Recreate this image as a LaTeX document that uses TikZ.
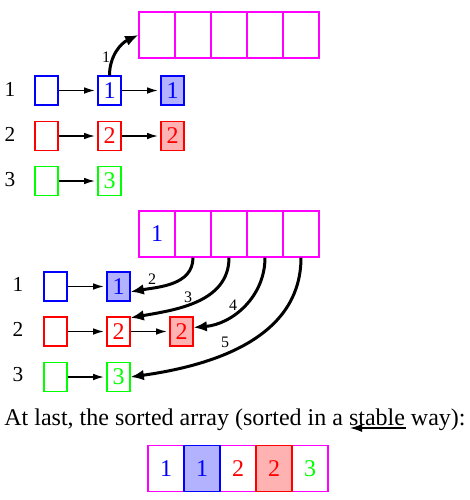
\documentclass[tikz,border=0pt]{standalone}
\usepackage{fontspec}
\setmainfont{Liberation Serif}
\usetikzlibrary{arrows.meta}

\definecolor{arraypink}{RGB}{255,0,255}
\tikzset{
  elem/.style={draw, minimum width=17.25pt, minimum height=21.75pt, inner sep=0pt, line width=0.8pt, font=\fontsize{18}{18}\selectfont},
  cell/.style={draw=arraypink, minimum width=27pt, minimum height=34.5pt, inner sep=0pt, line width=0.8pt, font=\fontsize{18}{18}\selectfont},
  rowlab/.style={font=\fontsize{16}{16}\selectfont},
  steplab/.style={font=\fontsize{12}{12}\selectfont},
  link/.style={-{Latex[length=8pt,width=5pt]}, line width=1pt, shorten >=2pt},
  move/.style={-{Latex[length=10pt,width=8pt]}, line width=2.25pt}
}

\begin{document}
\begin{tikzpicture}[x=0.75pt,y=-0.75pt]
\useasboundingbox (0,0) rectangle (470,500);

\foreach \i in {1,...,5}{
	\node[cell] (t\i) at (121+36*\i,35) {};
	}
\node[rowlab] (l1) at (10,89) {1};
\node[rowlab] (l2) at (10,134) {2};
\node[rowlab] (l3) at (10,180) {3};

\node[elem,blue] (a1) at (46.5,90.5) {};
\node[elem,blue] (b1) at (109.5,90.5) {1};
\node[elem,blue,fill=blue!30] (c1) at (172.5,90.5) {1};
\node[elem,red] (a2) at (46.5,136) {};
\node[elem,red] (b2) at (109.5,136) {2};
\node[elem,red,fill=red!30] (c2) at (172.5,136) {2};
\node[elem,green] (a3) at (46.5,181) {};
\node[elem,green] (b3) at (109.5,181) {3};

\draw[link] (a1) -- (b1);
\draw[link] (b1) -- (c1);
\draw[link] (a2) -- (b2);
\draw[link] (b2) -- (c2);
\draw[link] (a3) -- (b3);

\draw[move] (b1.north) to[out=90,in=205] (t1.west);
\node[steplab] (s1) at (106,57) {1};

\foreach \i in {1,...,5}{
	\node[cell] (m\i) at (121+36*\i,234) {};
	}
\node[cell,draw=none,blue] at (m1) {1};
\node[rowlab] (k1) at (18,284) {1};
\node[rowlab] (k2) at (18,329) {2};
\node[rowlab] (k3) at (18,375) {3};

\node[elem,blue] (p1) at (55.5,286.5) {};
\node[elem,blue,fill=blue!30] (q1) at (118.5,286.5) {1};
\node[elem,red] (p2) at (55.5,331.5) {};
\node[elem,red] (q2) at (118.5,331.5) {2};
\node[elem,red,fill=red!30] (r2) at (181.5,331.5) {2};
\node[elem,green] (p3) at (55.5,377) {};
\node[elem,green] (q3) at (118.5,377) {3};

\draw[link] (p1) -- (q1);
\draw[link] (p2) -- (q2);
\draw[link] (q2) -- (r2);
\draw[link] (p3) -- (q3);

\draw[move] (m2.south) to[out=-90,in=10] ([yshift=-4pt]q1.east);
\draw[move] (m3.south) to[out=-90,in=10] ([yshift=-1pt]q2.north east);
\draw[move] (m4.south) to[out=-90,in=5] ([yshift=3pt]r2.east);
\draw[move] (m5.south) to[out=-90,in=8] (q3.east);
\node[steplab] (s2) at (152,279) {2};
\node[steplab] (s3) at (188,297) {3};
\node[steplab] (s4) at (233,305) {4};
\node[steplab] (s5) at (225,342) {5};

\node[font=\fontsize{18}{18}\selectfont] (res) at (235,420) {At last, the sorted array (sorted in a stable way):};
\coordinate (stR) at (406,428);
\coordinate (stL) at (350,428);
\draw[-{Latex[length=9pt,width=6pt]}, line width=0.9pt] (stR) -- (stL);

\foreach \i in {1,...,5}{
	\node[cell] (f\i) at (130+36*\i,468.5) {};
	}
\node[cell,draw=none,blue] at (f1) {1};
\node[cell,draw=blue,fill=blue!30,text=blue] at (f2) {1};
\node[cell,draw=none,red] at (f3) {2};
\node[cell,draw=red,fill=red!30,text=red] at (f4) {2};
\node[cell,draw=none,green] at (f5) {3};
\end{tikzpicture}
\end{document}
